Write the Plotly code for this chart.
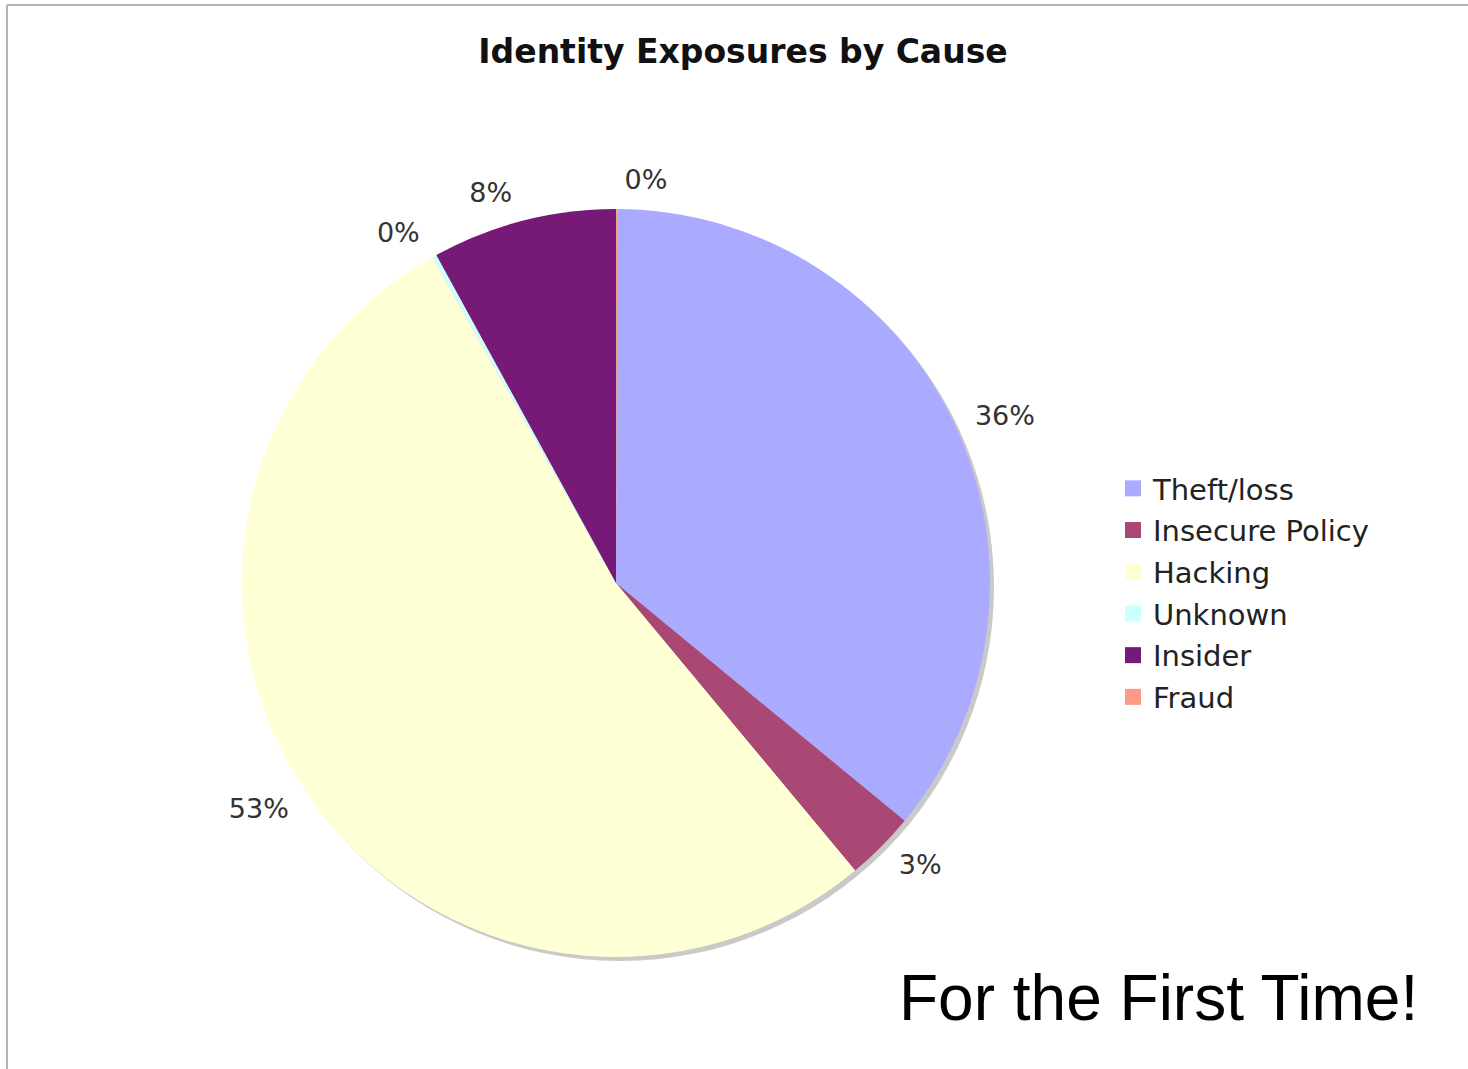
import plotly.graph_objects as go

# Exposure counts by cause (share of total)
causes = ["Theft/loss", "Insecure Policy", "Hacking", "Unknown", "Insider", "Fraud"]
shares = [36, 3, 53, 0.2, 8, 0.05]
colors = ["#AAAAFF", "#A94775", "#FFFFD5", "#CCFFFF", "#771977", "#FF9988"]

W, H = 1468, 1069
# pie placement in pixels (centre and radius)
cx, cy, r = 616, 583, 374
label_r = r + 14          # outside labels sit a little further from the rim
shadow_dx, shadow_dy = 4, 4
start_rot = 0.2


def dom(x0, y0, rad):
    return dict(
        x=[(x0 - rad) / W, (x0 + rad) / W],
        y=[1 - (y0 + rad) / H, 1 - (y0 - rad) / H],
    )


fig = go.Figure()

# drop shadow behind the pie
fig.add_trace(go.Pie(
    values=[1], labels=["shadow"], marker=dict(colors=["#C9C9C9"], line=dict(width=0)),
    domain=dom(cx + shadow_dx, cy + shadow_dy, r), textinfo="none",
    hoverinfo="skip", showlegend=False, sort=False,
))

# the pie itself
fig.add_trace(go.Pie(
    labels=causes, values=shares, sort=False, direction="clockwise", rotation=start_rot,
    marker=dict(colors=colors, line=dict(width=0)),
    domain=dom(cx, cy, r), textinfo="none",
    showlegend=False,
))

# transparent copy on a slightly larger radius carrying the percentage labels
fig.add_trace(go.Pie(
    labels=causes, values=shares, sort=False, direction="clockwise", rotation=start_rot,
    marker=dict(colors=["rgba(0,0,0,0)"] * len(causes), line=dict(width=0)),
    domain=dom(cx, cy, label_r),
    textposition="outside", texttemplate="%{percent:.0%}",
    outsidetextfont=dict(family="DejaVu Sans", size=27, color="#333333"),
    hoverinfo="skip", showlegend=False,
))

# legend entries with larger swatches
for name, col in zip(causes, colors):
    fig.add_trace(go.Scatter(
        x=[None], y=[None], mode="markers", name=name, legendgroup=name,
        marker=dict(symbol="square", size=20, color=col),
    ))

fig.update_layout(
    width=W, height=H,
    margin=dict(l=0, r=0, t=0, b=0),
    paper_bgcolor="white", plot_bgcolor="white",
    xaxis=dict(visible=False), yaxis=dict(visible=False),
    title=dict(
        text="<b>Identity Exposures by Cause</b>",
        font=dict(family="DejaVu Sans", size=33, color="#111111"),
        x=743 / W, xanchor="center", y=1 - 51 / H, yanchor="middle",
    ),
    legend=dict(
        x=1113 / W, xanchor="left", y=1 - 463 / H, yanchor="top",
        font=dict(family="DejaVu Sans", size=29, color="#222222"),
        tracegroupgap=1, bgcolor="rgba(0,0,0,0)",
    ),
    shapes=[
        dict(type="line", xref="paper", yref="paper", x0=7 / W, x1=7 / W, y0=0, y1=1 - 5 / H,
             line=dict(color="#B5B5B5", width=2)),
        dict(type="line", xref="paper", yref="paper", x0=7 / W, x1=1, y0=1 - 5 / H, y1=1 - 5 / H,
             line=dict(color="#B5B5B5", width=2)),
    ],
    annotations=[
        dict(text="For the First Time!", xref="paper", yref="paper",
             x=1420 / W, xanchor="right", y=1 - 998 / H, yanchor="middle",
             showarrow=False, font=dict(family="Liberation Sans", size=64, color="black")),
    ],
)

fig.write_html("out.html")
